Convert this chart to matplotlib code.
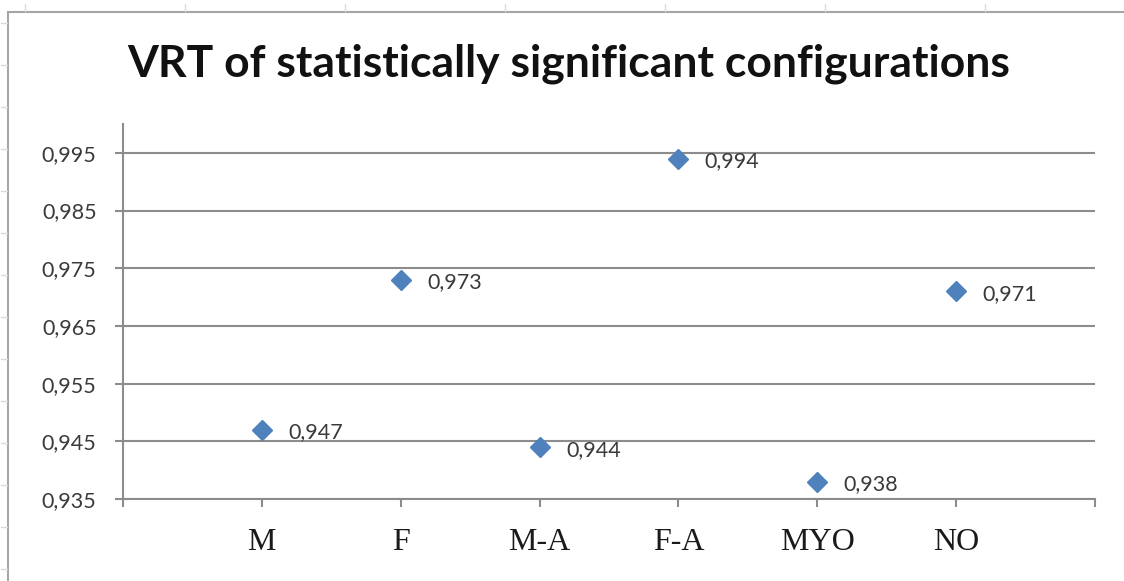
import matplotlib
matplotlib.use("Agg")
import matplotlib.pyplot as plt
from matplotlib.lines import Line2D

# VRT das configurações estatisticamente significativas
configs = ["M", "F", "M-A", "F-A", "MYO", "NO"]
vrt = [0.947, 0.973, 0.944, 0.994, 0.938, 0.971]
y_ticks = [0.935, 0.945, 0.955, 0.965, 0.975, 0.985, 0.995]

W, H = 1124, 581
fig = plt.figure(figsize=(W / 100, H / 100), dpi=100)
fig.patch.set_facecolor("white")

# moldura do gráfico e linhas da folha de cálculo por trás
fig.add_artist(Line2D([8 / W, 8 / W], [0, 1 - 12 / H], color="#a6a6a6", lw=1.5))
fig.add_artist(Line2D([8 / W, 1], [1 - 12 / H, 1 - 12 / H], color="#a6a6a6", lw=1.5))
for x in range(25, W, 160):
    fig.add_artist(Line2D([x / W, x / W], [1 - 4 / H, 1 - 11 / H], color="#dcdcdc", lw=1))
for y in range(23, H, 42):
    fig.add_artist(Line2D([1 / W, 7 / W], [1 - y / H, 1 - y / H], color="#dcdcdc", lw=1))

ax = fig.add_axes([123 / W, 1 - 499 / H, 972 / W, 375 / H])
grid_col = "#8c8c8c"

pos = list(range(1, len(configs) + 1))
ax.plot(pos, vrt, linestyle="none", marker="D", markersize=10,
        color="#4f81bd", markeredgecolor="#4f81bd", zorder=3)
for x, v in zip(pos, vrt):
    ax.annotate(f"{v:.3f}".replace(".", ","), (x, v), xytext=(19, -2),
                textcoords="offset points", va="center", ha="left",
                fontsize=15.5, family="Lato", color="#3a3a3a")

ax.set_xlim(0, len(configs) + 1)
ax.set_ylim(0.935, 1.0)
ax.set_yticks(y_ticks)
ax.set_yticklabels([f"{t:.3f}".replace(".", ",") for t in y_ticks],
                   family="Lato", fontsize=15.5, color="#3a3a3a")
ax.set_xticks(range(0, len(configs) + 2))
ax.set_xticklabels([""] + configs + [""], family="Liberation Serif",
                   fontsize=23, color="#1a1a1a")
ax.grid(axis="y", color=grid_col, lw=1.5)
ax.set_axisbelow(True)

for s in ["top", "right"]:
    ax.spines[s].set_visible(False)
for s in ["left", "bottom"]:
    ax.spines[s].set_color(grid_col)
    ax.spines[s].set_linewidth(1.5)
ax.tick_params(axis="y", direction="out", length=6, width=1.5, color=grid_col, pad=13)
ax.tick_params(axis="x", direction="out", length=6, width=1.5, color=grid_col, pad=15)

fig.text(569 / W, 1 - 77 / H, "VRT of statistically significant configurations",
         ha="center", va="baseline", fontsize=32, fontweight="bold",
         family="Lato", color="#111111")

fig.savefig("out.png", dpi=100, facecolor="white")
